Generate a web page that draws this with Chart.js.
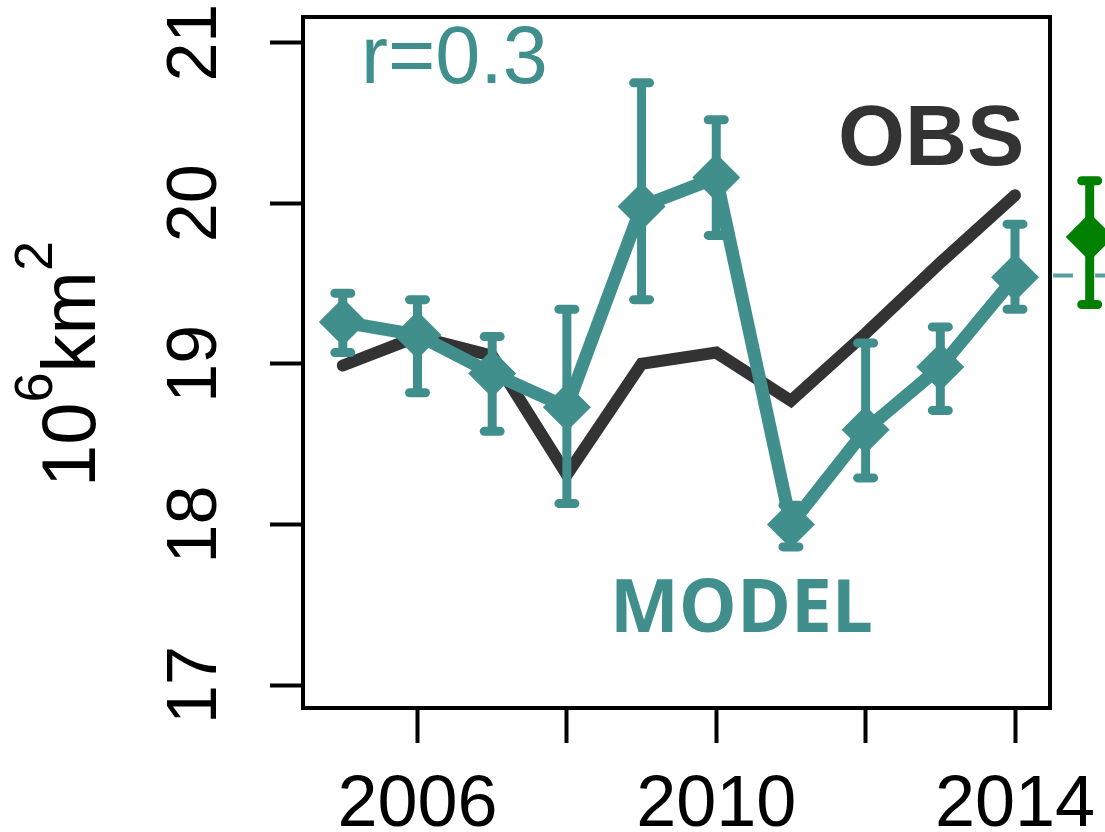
<!DOCTYPE html>
<html>
<head>
<meta charset="utf-8">
<script src="https://cdn.jsdelivr.net/npm/chart.js@4.4.1/dist/chart.umd.min.js"></script>
<style>
  html, body { margin: 0; padding: 0; background: #fff; }
  #wrap { width: 1105px; height: 832px; }
</style>
</head>
<body>
<div id="wrap"><canvas id="grafico" width="1105" height="832"></canvas></div>
<script>
// data
const years = [2005, 2006, 2007, 2008, 2009, 2010, 2011, 2012, 2013, 2014];
const obs = [18.99, 19.17, 19.05, 18.31, 19.00, 19.07, 18.77, 19.19, 19.63, 20.05];
const model = [19.26, 19.18, 18.94, 18.73, 19.98, 20.16, 18.00, 18.59, 18.98, 19.54];
const modelHi = [19.44, 19.40, 19.17, 19.34, 20.75, 20.52, 18.12, 19.13, 19.23, 19.87];
const modelLo = [19.07, 18.82, 18.58, 18.13, 19.40, 19.80, 17.86, 18.29, 18.71, 19.34];

// the green point sitting just right of the box
const greenYear = [2015];
const green = [19.79];
const greenHi = [20.14];
const greenLo = [19.37];
const meanYears = [2014.51, 2015.25];
const meanLine = [19.55, 19.55];

const xTicks = [2006, 2008, 2010, 2012, 2014];
const xLabels = [2006, 2010, 2014];
const yTicks = [17, 18, 19, 20, 21];

const X_MIN = 2004.467;
const BOX_RIGHT = 2014.469; // right edge of the framed panel
const X_MAX = 2015.205;     // canvas edge

const TEAL = "#408f8c";
const DARK = "#333333";
const GREEN = "#008000";
const FONT = "'Liberation Sans', Arial, sans-serif";

const ctx = document.getElementById("grafico").getContext("2d");

const pts = (xs, ys) => xs.map((x, i) => ({ x: x, y: ys[i] }));

// box around the panel
const frame = {
  id: "frame",
  beforeDatasetsDraw(chart) {
    const { ctx, chartArea: a, scales } = chart;
    const r = scales.x.getPixelForValue(BOX_RIGHT);
    ctx.save();
    ctx.strokeStyle = "#000";
    ctx.lineWidth = 4;
    ctx.strokeRect(a.left, a.top, r - a.left, a.bottom - a.top);
    ctx.restore();
  }
};

// vertical error bars with caps
function drawBars(chart, xs, hi, lo, color) {
  const { ctx, scales } = chart;
  ctx.save();
  ctx.strokeStyle = color;
  ctx.lineWidth = 9;
  ctx.lineCap = "round";
  xs.forEach((x, i) => {
    const px = scales.x.getPixelForValue(x);
    const top = scales.y.getPixelForValue(hi[i]);
    const bot = scales.y.getPixelForValue(lo[i]);
    ctx.beginPath();
    ctx.moveTo(px, top);
    ctx.lineTo(px, bot);
    ctx.moveTo(px - 8, top);
    ctx.lineTo(px + 8, top);
    ctx.moveTo(px - 8, bot);
    ctx.lineTo(px + 8, bot);
    ctx.stroke();
  });
  ctx.restore();
}

const errorBars = {
  id: "errorBars",
  afterDatasetsDraw(chart) {
    drawBars(chart, years, modelHi, modelLo, TEAL);
    drawBars(chart, greenYear, greenHi, greenLo, GREEN);
  }
};

// texts: axis title, r value, series names
const labels = {
  id: "labels",
  afterDraw(chart) {
    const c = chart.ctx;
    c.save();
    c.textBaseline = "alphabetic";
    c.textAlign = "left";

    c.fillStyle = TEAL;
    c.font = "81px " + FONT;
    c.fillText("r=0.3", 361, 83);

    c.fillStyle = DARK;
    c.font = "bold 86px " + FONT;
    c.fillText("OBS", 838, 165);

    c.fillStyle = TEAL;
    c.font = "bold 73px 'Open Sans', " + FONT;
    c.fillText("MODEL", 610, 632);

    // y title 10^6 km^2, rotated
    c.fillStyle = "#000";
    c.translate(95, 487);
    c.rotate(-Math.PI / 2);
    let x = 0;
    const parts = [["10", false], ["6", true], ["km", false], ["2", true]];
    parts.forEach(([t, sup]) => {
      c.font = (sup ? "54px " : "76px ") + FONT;
      c.fillText(t, x, sup ? -43 : 0);
      x += c.measureText(t).width;
    });
    c.restore();
  }
};

new Chart(ctx, {
  type: "line",
  data: {
    datasets: [
      {
        label: "green",
        data: pts(greenYear, green),
        showLine: false,
        pointStyle: "rectRot",
        pointRadius: 24,
        pointBorderWidth: 0,
        pointBackgroundColor: GREEN,
        clip: false,
        order: 1
      },
      {
        label: "MODEL",
        data: pts(years, model),
        borderColor: TEAL,
        borderWidth: 13,
        borderJoinStyle: "miter",
        pointStyle: "rectRot",
        pointRadius: 24,
        pointBorderWidth: 0,
        pointBackgroundColor: TEAL,
        order: 2
      },
      {
        label: "OBS",
        data: pts(years, obs),
        borderColor: DARK,
        borderWidth: 12,
        borderJoinStyle: "miter",
        borderCapStyle: "round",
        pointRadius: 0,
        order: 3
      },
      {
        label: "mean",
        data: pts(meanYears, meanLine),
        borderColor: "#5a9ea3",
        borderWidth: 4,
        borderDash: [20, 22],
        pointRadius: 0,
        clip: false,
        order: 4
      }
    ]
  },
  options: {
    responsive: false,
    animation: false,
    events: [],
    layout: { autoPadding: false, padding: { top: 17, right: 0, left: 0, bottom: 0 } },
    plugins: { legend: { display: false }, tooltip: { enabled: false } },
    scales: {
      x: {
        type: "linear",
        min: X_MIN,
        max: X_MAX,
        afterBuildTicks: s => { s.ticks = xTicks.map(v => ({ value: v })); },
        afterFit: s => { s.height = 124; s.paddingLeft = 0; s.paddingRight = 0; },
        grid: { drawOnChartArea: false, drawTicks: true, tickLength: 35, tickWidth: 4, tickColor: "#000" },
        border: { display: false },
        ticks: {
          autoSkip: false,
          maxRotation: 0,
          padding: 20,
          color: "#000",
          font: { family: FONT, size: 72 },
          callback: v => xLabels.includes(v) ? String(v) : ""
        }
      },
      y: {
        type: "linear",
        min: 16.857,
        max: 21.16,
        afterBuildTicks: s => { s.ticks = yTicks.map(v => ({ value: v })); },
        afterFit: s => { s.width = 303; s.paddingTop = 0; s.paddingBottom = 0; },
        grid: { drawOnChartArea: false, drawTicks: true, tickLength: 33, tickWidth: 4, tickColor: "#000" },
        border: { display: false },
        ticks: {
          minRotation: 90,
          maxRotation: 90,
          crossAlign: "center",
          padding: 34,
          color: "#000",
          font: { family: FONT, size: 70 },
          callback: v => String(v)
        }
      }
    }
  },
  plugins: [frame, errorBars, labels]
});
</script>
</body>
</html>
